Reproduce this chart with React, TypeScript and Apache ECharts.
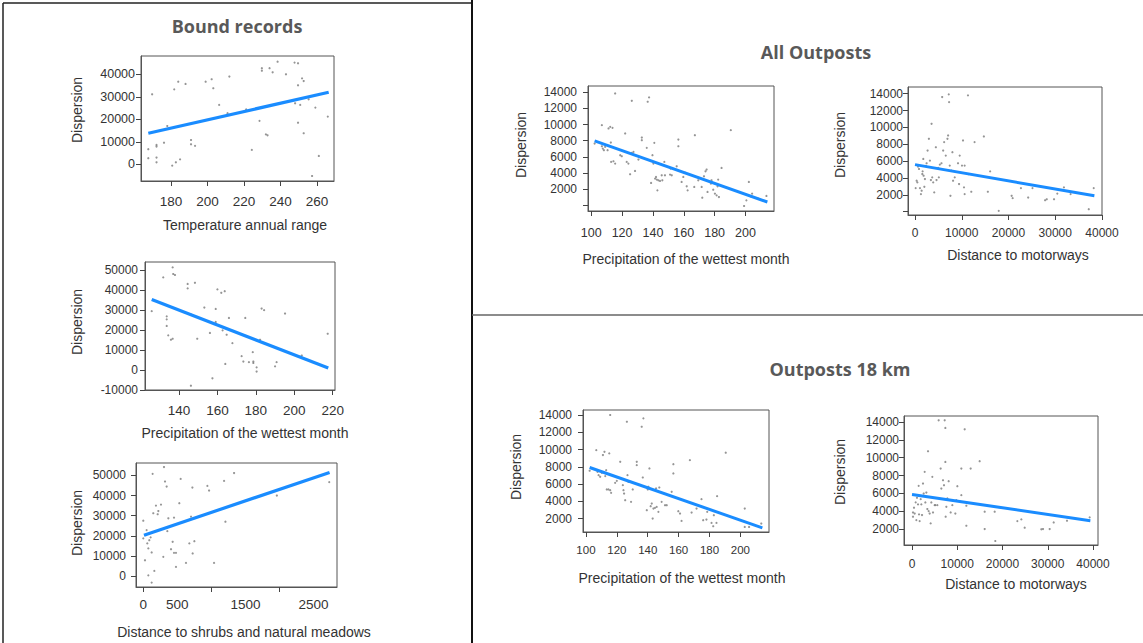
import React, { useEffect, useRef } from "react";
import * as echarts from "echarts";

// ---------- Data ----------
// Bound records: Temperature annual range
const boundTempPoints: number[][] = [
  [167.6, 6700], [167.6, 2700], [169.7, 31100], [172.1, 8600], [172.1, 7900], [172.1, 3000], [172.1, 900],
  [176.2, 9600], [178, 17000], [180.7, -600], [181.8, 33300], [182.7, 900], [184, 36700], [185, 2200],
  [188, 35700], [191, 10800], [191, 8900], [193.2, 8200], [199, 36700], [202.3, 37800], [203.2, 33800],
  [206.4, 26400], [211, 22700], [212, 39000], [221.2, 24400], [224.3, 6400], [228.5, 19300], [229.8, 42700],
  [229.8, 41600], [232, 13300], [232.9, 12900], [234, 42700], [235.7, 40900], [238.4, 45600], [243, 40000],
  [247.7, 45200], [248, 27100], [249.6, 44900], [249.6, 35100], [249.6, 18500], [250.8, 26400], [251.8, 38200],
  [252.7, 37000], [252.7, 13800], [255.4, 28900], [257.3, -5200], [259.1, 25200], [261, 3700], [265.9, 21200],
];
const boundTempFit: number[][] = [[167.6, 13800], [266.4, 32000]];

// Bound records: Precipitation of the wettest month
const boundPrecPoints: number[][] = [
  [125.8, 29400], [131.8, 46300], [133.6, 26800], [133.6, 25300], [133.6, 22000], [134.4, 17300], [135.8, 15100],
  [136.7, 15600], [136.7, 51300], [137, 48000], [137.9, 47500], [144.5, 43000], [144.5, 40800], [146.2, 27700],
  [146.2, -7900], [148.3, 43600], [149.5, 15600], [153.2, 31200], [156.1, 18500], [157.4, -4200], [159.1, 30500],
  [159.1, 24000], [160, 40300], [162, 38600], [162.7, 19800], [163.8, 39400], [164.1, 3000], [164.8, 17600],
  [166, 26000], [167.8, 13400], [172.6, 6900], [173.5, 4200], [174.5, 26000], [176.4, 3900], [178.4, 8900],
  [178.7, 4200], [178.7, 3500], [180.4, 1300], [180.4, -800], [182.2, 15100], [183, 30700], [184.3, 29900],
  [190, 1800], [190.8, 3900], [195.2, 28200], [203.9, 7200], [217.4, 18100],
];
const boundPrecFit: number[][] = [[125.8, 35200], [217.7, 1000]];

// Bound records: Distance to shrubs and natural meadows
const boundShrubPoints: number[][] = [
  [0, 27500], [0, 18700], [25, 7800], [39, 20300], [49, 22800], [59, 16200], [74, 13700], [74, 300], [88, 17800],
  [108, 19200], [123, 11700], [123, -3300], [137, 50800], [147, 31200], [162, 2500], [186, 35000], [211, 30700],
  [221, 32300], [260, 35500], [294, 9500], [304, 54200], [319, 47000], [343, 44500], [353, 22300], [368, 28700],
  [407, 13300], [431, 17000], [451, 29000], [451, 11500], [480, 11500], [480, 4500], [529, 36200], [549, 48300],
  [627, 6500], [676, 16200], [701, 29500], [721, 44000], [725, 11200], [750, 17300], [941, 44800], [966, 42500],
  [1039, 6500], [1186, 47300], [1206, 27000], [1333, 51200], [1961, 40000], [2730, 46700],
];
const boundShrubFit: number[][] = [[10, 20300], [2735, 51500]];

// All outposts: Precipitation of the wettest month
const allPrecPoints: number[][] = [
  [102.2, 7650], [106.9, 9930], [106.9, 7320], [107.5, 7030], [108.2, 6830], [109, 7240], [110.6, 6830],
  [111.2, 9520], [112.3, 9720], [112.7, 7780], [112.9, 5380], [113.8, 9600], [114.4, 5460], [115.5, 13860],
  [115.5, 5170], [118.8, 6210], [119.8, 6080], [122, 8900], [123, 5380], [124.1, 5170], [125.2, 3850],
  [126.3, 12950], [126.3, 6500], [127.4, 6620], [128.4, 4260], [130.6, 5670], [132.8, 8400], [132.8, 8070],
  [136, 7120], [136.6, 12830], [137.5, 13370], [138.8, 2770], [139.7, 6210], [140.3, 5170], [140.9, 7740],
  [141.4, 3310], [142, 3520], [142.5, 3190], [142.9, 1860], [143.5, 3100], [144.6, 3020], [145.7, 3720],
  [146.1, 3100], [147.4, 5380], [147.8, 3720], [151.1, 3810], [152.2, 3720], [151.5, 4550], [155.4, 4840],
  [156.5, 8150], [156.5, 7320], [158.6, 2900], [159.7, 3520], [160.8, 4050], [161.9, 2360], [162.5, 1860],
  [166.8, 2280], [167.2, 8690], [169.4, 3100], [171.6, 2280], [172, 950], [173.1, 3600], [174.1, 4220],
  [174.8, 4430], [175.4, 1660], [177.6, 2690], [178, 3100], [179.1, 1940], [180.2, 1450], [181.3, 1240],
  [181.9, 2360], [182.3, 3190], [182.8, 1030], [184.5, 4630], [190.5, 9310], [199.1, -80], [200.6, 620],
  [202.2, 2900], [203.4, 1120], [204.3, 1450], [208.2, 830], [213.6, 1160],
];
const allPrecFit: number[][] = [[102.2, 7990], [214.2, 410]];

// All outposts: Distance to motorways
const allMotorPoints: number[][] = [
  [140, 2790], [350, 3670], [500, 3470], [640, 5340], [850, 5060], [1060, 2790], [1270, 2080], [1420, 2480],
  [1560, 4460], [1630, 4780], [1770, 6250], [1840, 4260], [2000, 2950], [2120, 3870], [2340, 5420], [2480, 5740],
  [2690, 7250], [2970, 8640], [3190, 6050], [3400, 3750], [3540, 10420], [3680, 4070], [3890, 3470], [4110, 2280],
  [4460, 7640], [4600, 3750], [4960, 5180], [5100, 4070], [5310, 5580], [5660, 5740], [5810, 13600], [6020, 7250],
  [6230, 8250], [6580, 6650], [6940, 8640], [7080, 9040], [7220, 13920], [7290, 13000], [7430, 5460], [7580, 1880],
  [7790, 4860], [8000, 7050], [8140, 3670], [8500, 4070], [9200, 5740], [9420, 3270], [9560, 6650], [10050, 5460],
  [10270, 8450], [10480, 2880], [10620, 5460], [10620, 2080], [11330, 13800], [11470, 4460], [12040, 2360],
  [12740, 8250], [14730, 8920], [15580, 2360], [16070, 4780], [17910, 90], [20670, 1880], [20890, 1600],
  [22660, 2790], [24210, 1670], [25130, 2790], [27830, 1350], [28180, 1470], [29740, 1470], [30440, 2140],
  [31860, 2880], [33280, 2080], [37170, 290], [38230, 2790],
];
const allMotorFit: number[][] = [[0, 5580], [38370, 1880]];

// Outposts 18 km: Precipitation of the wettest month
const km18PrecPoints: number[][] = [
  [102.4, 7540], [106.7, 9930], [107.5, 7420], [108.2, 7030], [109.2, 6840], [110.3, 7300], [111, 9360],
  [112, 9740], [112.5, 6920], [113.1, 7610], [113.5, 5370], [114.6, 5370], [115.1, 9550], [115.7, 14000],
  [115.7, 5290], [116.3, 4980], [118.9, 6140], [120, 6370], [122.2, 8580], [123.9, 5870], [124.3, 5290],
  [124.7, 4900], [125.4, 4130], [126.5, 13220], [126.9, 7030], [127.5, 6260], [129.2, 3940], [130.3, 5370],
  [132.9, 8580], [132.9, 8190], [136.1, 12640], [136.8, 6760], [137.2, 13610], [139.4, 2970], [140, 5370],
  [140.4, 5680], [141.1, 7810], [141.9, 3430], [142.6, 3740], [143.2, 2000], [143.7, 3160], [144.7, 3240],
  [145.4, 5490], [145.8, 3350], [146.9, 2780], [147.5, 5600], [149, 3940], [151.2, 3550], [152.3, 3550],
  [155.5, 5100], [156.6, 8300], [156.6, 7230], [159.8, 2850], [160.9, 2580], [161.9, 1730], [167.3, 8770],
  [168.4, 2700], [171.6, 3160], [174.8, 4250], [175.9, 1810], [178, 1890], [178.5, 2780], [181.3, 1500],
  [182.4, 1110], [182.8, 2390], [184.5, 1500], [184.9, 4600], [190.5, 9630], [202.8, 3160], [202.8, 1030],
  [205.6, 1030], [213.5, 1420],
];
const km18PrecFit: number[][] = [[102.4, 7920], [214.2, 920]];

// Outposts 18 km: Distance to motorways
const km18MotorPoints: number[][] = [
  [220, 3860], [220, 3380], [440, 4390], [590, 3740], [810, 4990], [960, 3000], [1100, 5500], [1330, 4760],
  [1470, 6840], [1550, 3640], [1690, 2890], [1920, 5350], [2060, 4760], [2210, 3570], [2430, 7100], [2580, 5980],
  [2800, 8410], [2950, 4980], [3170, 6090], [3390, 4240], [3540, 10720], [3680, 4010], [3900, 3740], [4120, 2630],
  [4270, 4980], [4490, 7850], [4640, 3860], [5010, 4680], [5160, 4680], [5600, 4680], [5890, 14190], [6330, 8780],
  [6480, 6540], [6850, 7470], [7070, 6910], [7220, 14190], [7370, 13330], [7370, 9520], [7440, 3380], [7590, 4490],
  [7810, 5430], [8100, 7360], [8540, 3860], [8910, 4680], [9580, 3740], [9800, 5240], [10020, 6800], [10900, 8780],
  [10900, 5800], [11640, 13180], [12010, 4610], [12010, 2370], [12960, 8780], [14950, 9600], [16060, 3940],
  [16060, 2000], [18410, 660], [18270, 3940], [23280, 2890], [24160, 3080], [24900, 2150], [28580, 1970],
  [28950, 2000], [30420, 2000], [31310, 2740], [34250, 2930], [39260, 3310],
];
const km18MotorFit: number[][] = [[0, 5880], [39410, 2930]];

// Tick values
const tempTicks = [180, 200, 220, 240, 260];
const boundTempYTicks = [0, 10000, 20000, 30000, 40000];
const precBoundTicks = [140, 160, 180, 200, 220];
const boundPrecYTicks = [-10000, 0, 10000, 20000, 30000, 40000, 50000];
const shrubLabels = [0, 500, 1500, 2500];
const shrubTicks = [0, 1000, 2000];
const boundShrubYTicks = [0, 10000, 20000, 30000, 40000, 50000];
const precOutTicks = [100, 120, 140, 160, 180, 200];
const motorTicks = [0, 10000, 20000, 30000, 40000];
const outYLabels = [2000, 4000, 6000, 8000, 10000, 12000, 14000];
const outYTicksWithZero = [0, 2000, 4000, 6000, 8000, 10000, 12000, 14000];

// Titles and axis names
const panelTitles = ["Bound records", "All Outposts", "Outposts 18 km"];
const yName = "Dispersion";

type Plot = {
  box: number[]; // left, top, width, height
  xr: number[];
  yr: number[];
  points: number[][];
  fit: number[][];
  xLabels: number[];
  xTicks: number[];
  yLabels: number[];
  yTicks: number[];
  xName: string;
  xNamePos: number[];
  yNamePos: number[];
  xMargin: number;
  yMargin: number;
  xFont: number;
  yFont: number;
  lineW: number;
};

const plots: Plot[] = [
  {
    box: [141, 56, 193, 125], xr: [163.6, 269.3], yr: [-7422, 48133],
    points: boundTempPoints, fit: boundTempFit,
    xLabels: tempTicks, xTicks: tempTicks, yLabels: boundTempYTicks, yTicks: boundTempYTicks,
    xName: "Temperature annual range", xNamePos: [245, 225], yNamePos: [77, 110],
    xMargin: 13, yMargin: 6, xFont: 13.5, yFont: 12.5, lineW: 3.2,
  },
  {
    box: [145, 262, 190, 128], xr: [122.3, 221.2], yr: [-10040, 54000],
    points: boundPrecPoints, fit: boundPrecFit,
    xLabels: precBoundTicks, xTicks: precBoundTicks, yLabels: boundPrecYTicks, yTicks: boundPrecYTicks,
    xName: "Precipitation of the wettest month", xNamePos: [245, 433], yNamePos: [77, 322],
    xMargin: 13, yMargin: 7, xFont: 13.5, yFont: 12, lineW: 3.2,
  },
  {
    box: [136, 463, 201, 124], xr: [-107, 2844], yr: [-5500, 56200],
    points: boundShrubPoints, fit: boundShrubFit,
    xLabels: shrubLabels, xTicks: shrubTicks, yLabels: boundShrubYTicks, yTicks: boundShrubYTicks,
    xName: "Distance to shrubs and natural meadows", xNamePos: [244, 632], yNamePos: [77, 523],
    xMargin: 10, yMargin: 10, xFont: 13.5, yFont: 12, lineW: 3.2,
  },
  {
    box: [588, 86, 186, 125], xr: [97.9, 218.5], yr: [-700, 14780],
    points: allPrecPoints, fit: allPrecFit,
    xLabels: precOutTicks, xTicks: precOutTicks, yLabels: outYLabels, yTicks: outYTicksWithZero,
    xName: "Precipitation of the wettest month", xNamePos: [686, 259], yNamePos: [521, 145],
    xMargin: 15, yMargin: 11, xFont: 12.5, yFont: 12, lineW: 3,
  },
  {
    box: [908, 87, 194, 128], xr: [-1500, 40000], yr: [-400, 14790],
    points: allMotorPoints, fit: allMotorFit,
    xLabels: motorTicks, xTicks: motorTicks, yLabels: outYLabels, yTicks: outYTicksWithZero,
    xName: "Distance to motorways", xNamePos: [1018, 255], yNamePos: [840, 145],
    xMargin: 12, yMargin: 5, xFont: 12, yFont: 12, lineW: 3,
  },
  {
    box: [583, 410, 186, 122], xr: [98.1, 218.5], yr: [444, 14580],
    points: km18PrecPoints, fit: km18PrecFit,
    xLabels: precOutTicks, xTicks: precOutTicks, yLabels: outYLabels, yTicks: outYLabels,
    xName: "Precipitation of the wettest month", xNamePos: [682, 578], yNamePos: [516, 467],
    xMargin: 12, yMargin: 11, xFont: 11.5, yFont: 12, lineW: 3,
  },
  {
    box: [904, 416, 194, 129], xr: [-1770, 41100], yr: [211, 14670],
    points: km18MotorPoints, fit: km18MotorFit,
    xLabels: motorTicks, xTicks: motorTicks, yLabels: outYLabels, yTicks: outYLabels,
    xName: "Distance to motorways", xNamePos: [1016, 584], yNamePos: [840, 472],
    xMargin: 13, yMargin: 5, xFont: 12, yFont: 12, lineW: 3,
  },
];

const FONT = "'Liberation Sans', Arial, sans-serif";
const TITLE_FONT = "'Open Sans', 'Noto Sans', sans-serif";
const plain = (v: number) => String(v);

export default function App() {
  const ref = useRef<HTMLDivElement>(null);

  useEffect(() => {
    if (!ref.current) return;
    const chart = echarts.init(ref.current, undefined, { renderer: "svg" });

    const grid = plots.map((p) => ({
      left: p.box[0], top: p.box[1], width: p.box[2], height: p.box[3],
      show: true, borderColor: "#555", borderWidth: 1, containLabel: false,
    }));

    const xAxis = plots.map((p, i) => ({
      type: "value", gridIndex: i, min: p.xr[0], max: p.xr[1],
      splitLine: { show: false },
      axisLine: { show: true, onZero: false, lineStyle: { color: "#555", width: 1 } },
      axisTick: { show: true, customValues: p.xTicks, length: 5, lineStyle: { color: "#444" } },
      axisLabel: {
        customValues: p.xLabels, margin: p.xMargin, fontSize: p.xFont, color: "#333",
        fontFamily: FONT, showMinLabel: true, showMaxLabel: true, formatter: plain,
      },
    }));

    const yAxis = plots.map((p, i) => ({
      type: "value", gridIndex: i, min: p.yr[0], max: p.yr[1],
      splitLine: { show: false },
      axisLine: { show: true, onZero: false, lineStyle: { color: "#555", width: 1 } },
      axisTick: { show: true, customValues: p.yTicks, length: 5, lineStyle: { color: "#444" } },
      axisLabel: {
        customValues: p.yLabels, margin: p.yMargin, fontSize: p.yFont, color: "#333",
        fontFamily: FONT, showMinLabel: true, showMaxLabel: true, formatter: plain,
      },
    }));

    const series: any[] = [];
    plots.forEach((p, i) => {
      series.push({
        type: "scatter", xAxisIndex: i, yAxisIndex: i, data: p.points,
        symbol: "circle", symbolSize: 2.2, itemStyle: { color: "#7a7a7a" }, silent: true,
      });
      series.push({
        type: "line", xAxisIndex: i, yAxisIndex: i, data: p.fit,
        symbol: "none", lineStyle: { color: "#1a8cff", width: p.lineW }, silent: true,
      });
    });

    const graphic: any[] = [
      // panel borders
      { type: "line", shape: { x1: 3, y1: 3, x2: 472, y2: 3 }, style: { stroke: "#222", lineWidth: 1.5 } },
      { type: "line", shape: { x1: 3, y1: 3, x2: 3, y2: 643 }, style: { stroke: "#222", lineWidth: 1.5 } },
      { type: "line", shape: { x1: 472, y1: 0, x2: 472, y2: 643 }, style: { stroke: "#111", lineWidth: 2 } },
      { type: "line", shape: { x1: 472, y1: 315, x2: 1143, y2: 315 }, style: { stroke: "#666", lineWidth: 1.5 } },
      // titles
      { type: "text", x: 237, y: 26, style: { text: panelTitles[0], fill: "#595959", font: `bold 18px ${TITLE_FONT}`, align: "center", verticalAlign: "middle" } },
      { type: "text", x: 816, y: 52, style: { text: panelTitles[1], fill: "#595959", font: `bold 18px ${TITLE_FONT}`, align: "center", verticalAlign: "middle" } },
      { type: "text", x: 840, y: 369, style: { text: panelTitles[2], fill: "#595959", font: `bold 18px ${TITLE_FONT}`, align: "center", verticalAlign: "middle" } },
    ];
    plots.forEach((p) => {
      graphic.push({
        type: "text", x: p.xNamePos[0], y: p.xNamePos[1],
        style: { text: p.xName, fill: "#333", font: `14px ${FONT}`, align: "center", verticalAlign: "middle" },
      });
      graphic.push({
        type: "text", x: p.yNamePos[0], y: p.yNamePos[1], rotation: Math.PI / 2,
        style: { text: yName, fill: "#333", font: `14px ${FONT}`, align: "center", verticalAlign: "middle" },
      });
    });

    chart.setOption({
      animation: false,
      backgroundColor: "#ffffff",
      grid, xAxis, yAxis, series, graphic,
    });

    return () => chart.dispose();
  }, []);

  return (
    <div
      ref={ref}
      style={{ position: "fixed", left: 0, top: 0, width: 1143, height: 643, background: "#fff" }}
    />
  );
}
